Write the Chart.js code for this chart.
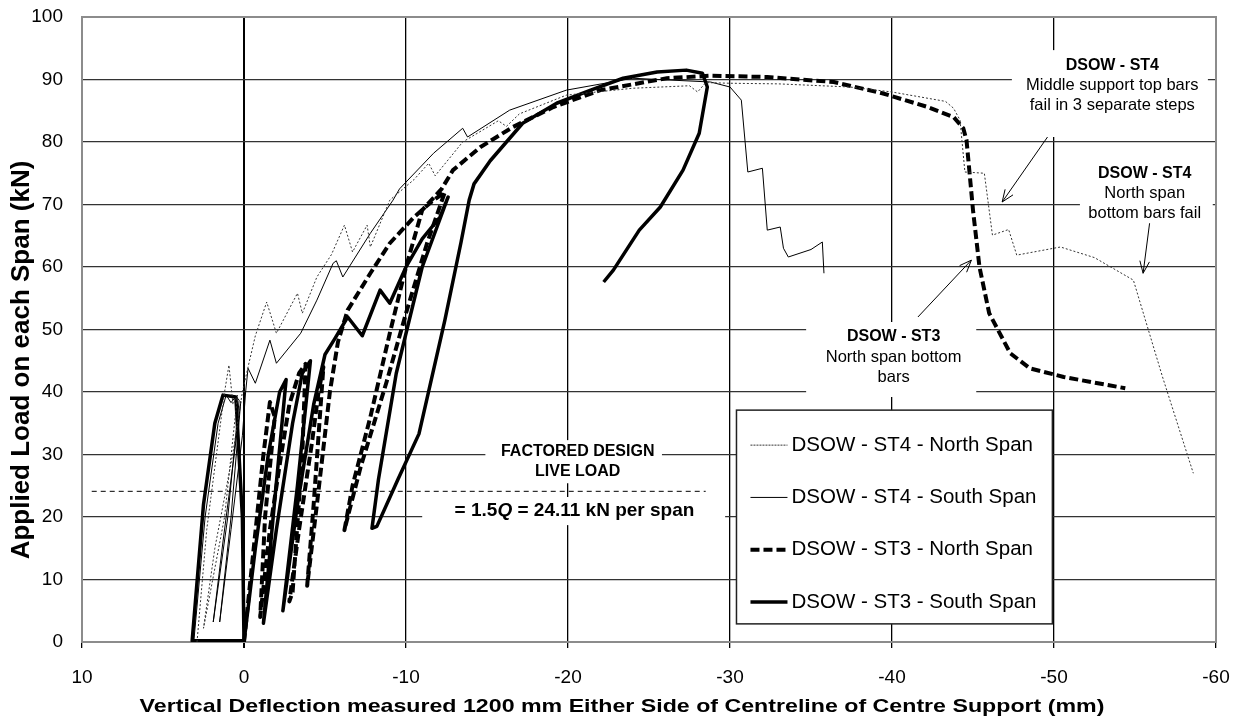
<!DOCTYPE html>
<html>
<head>
<meta charset="utf-8">
<script src="https://cdn.jsdelivr.net/npm/chart.js@4.4.1/dist/chart.umd.min.js"></script>
<style>
html,body{margin:0;padding:0;background:#fff;}
#wrap{width:1243px;height:726px;}
</style>
</head>
<body>
<div id="wrap"><canvas id="c" width="1243" height="726"></canvas></div>
<script>
// ---------- data (deflection mm, load kN) ----------
const xTickValues = [10, 0, -10, -20, -30, -40, -50, -60];
const yTickValues = [0, 10, 20, 30, 40, 50, 60, 70, 80, 90, 100];

const seriesNames = [
  'DSOW - ST4 - North Span',
  'DSOW - ST4 - South Span',
  'DSOW - ST3 - North Span',
  'DSOW - ST3 - South Span'
];

const st4North = [
  [2.9,0],[2.3,18],[1.6,32],[1.2,40],[0.93,44.3],[0.68,38],[0.4,39.5],[1.2,20],[2.5,2.2],[1.8,15],
  [0.7,30],[0.1,40],[-0.25,44],[-0.7,49],[-1.4,54.4],[-2.0,49.4],[-3.3,55.8],[-3.6,52.6],[-4.5,58.4],
  [-5.4,62],[-6.2,66.7],[-6.7,62.4],[-7.6,66.7],[-7.8,63.2],[-9,70.7],[-10.5,74],[-11.4,76.6],
  [-11.8,74.6],[-13.5,80],[-15.7,83.4],[-16.2,82.5],[-17,84.5],[-19.9,87.5],[-24,88.6],[-27.5,89],
  [-28.0,88],[-28.5,89.5],[-30,89.4],[-33,89.3],[-37.4,88.8],[-40,88],[-43.3,86.5],[-43.8,85.4],
  [-44.2,83.5],[-44.5,75.2],[-45.7,75],[-46.2,65.1],[-47.2,66],[-47.7,61.9],[-50.4,63.2],
  [-52.5,61.5],[-54.9,57.9],[-56.7,42.4],[-58.6,27]
];

const st4South = [
  [3.1,0],[2.4,20],[1.6,35],[1.1,39.5],[0.8,38.3],[0.5,39.3],[0.3,38.7],[1.0,20],[1.9,3.2],[1.3,16],
  [0.6,30],[0.2,38.5],[0.8,20],[1.5,3.2],[0.8,18],[0.1,33],[-0.1,40],[-0.25,43.8],[-0.7,41.4],
  [-1.6,48.3],[-2.0,44.6],[-3.5,49.4],[-4.5,54.7],[-5.5,60.6],[-5.7,61],[-6.1,58.4],[-7.8,65.4],
  [-9.2,70.7],[-9.6,72.5],[-11.7,78.2],[-13.5,82.2],[-13.8,80.8],[-16.4,85.1],[-19.9,88.3],
  [-24,90.2],[-28.8,89.6],[-30,88.8],[-30.7,86.7],[-31.1,75.2],[-32,75.8],[-32.3,65.9],
  [-33.1,66.4],[-33.3,63],[-33.6,61.6],[-35,62.8],[-35.7,64],[-35.8,59]
];

const st3North = [
  [0,0],[-0.6,15],[-1.2,30],[-1.6,38.4],[-1.9,36],[-1.3,20],[-1.0,4],[-1.6,18],[-2.3,30],[-2.8,38],
  [-3.4,43],[-3.8,44.5],[-3.6,30],[-3.0,8],[-2.8,6.5],[-3.4,18],[-4.2,32],[-4.6,40],[-4.9,44],
  [-4.3,22],[-3.9,9],[-4.5,22],[-5.3,40],[-5.8,48],[-6.4,53.1],[-7.8,59],[-9,63.8],[-10.5,68],
  [-11.6,70.5],[-12.4,72],[-11.3,63.8],[-10,52.6],[-8.8,41.6],[-7.2,28],[-6.5,21],[-6.2,17.9],
  [-6.7,25],[-7.8,36],[-9,49.4],[-10,60],[-11,69.1],[-12.2,72.5],[-12.9,75.5],[-14.6,79.2],
  [-16.6,82.4],[-19.1,85.6],[-22,88.3],[-26.1,90.2],[-28.8,90.6],[-32.3,90.4],[-36.4,89.6],
  [-39.4,87.8],[-42.2,85.6],[-43.8,84],[-44.4,82.2],[-44.6,80.3],[-45,69.1],[-45.4,60],[-46,52.6],
  [-47.3,46.2],[-48.5,43.8],[-50.6,42.4],[-54.4,40.6]
];

const st3South = [
  [0,0.2],[3.2,0.2],[2.5,22],[1.8,35],[1.3,39.5],[0.5,39.2],[0.1,20],[0,0],[-0.7,15],[-1.5,30],
  [-2.2,40],[-2.6,42],[-1.8,20],[-1.2,3],[-2,18],[-3,35],[-3.6,43],[-4.1,45],[-3.3,25],[-2.4,5],
  [-3.3,22],[-4.3,38],[-5,46],[-5.6,48.5],[-6.4,52],[-7.3,49],[-8.4,56.3],[-9,54.2],[-10,60],
  [-11,64.5],[-12.1,68],[-12.6,71.2],[-11.0,60],[-9.4,43],[-8.3,26],[-7.9,18.2],[-8.2,18.5],
  [-9.5,26],[-10.8,33.3],[-12.4,51.5],[-13.4,64],[-13.9,70.7],[-14.2,73.3],[-15.2,77],[-17.2,83],
  [-19.3,86.2],[-21.4,88.3],[-23.4,90.2],[-25.5,91.2],[-27.3,91.5],[-28.3,91],[-28.6,88.8],
  [-28.1,81.4],[-27.1,75.5],[-25.7,69.6],[-24.4,65.9],[-22.8,59.5],[-22.2,57.6]
];

const designLoadX = [9.4, -28.5];
const designLoadValue = 24.11;

// ---------- annotation layout (in data units) ----------
const FONT = '"Liberation Sans", Arial, Helvetica, sans-serif';
const notes = [
  { box: [-47.4, -59.5, 94.7, 80.8], cx: -53.6, lines: [
      { t: 'DSOW - ST4', y: 92.2, w: 'bold', s: 16 },
      { t: 'Middle support top bars', y: 89.0, w: 'normal', s: 16.5 },
      { t: 'fail in 3 separate steps', y: 85.8, w: 'normal', s: 16.5 } ] },
  { box: [-51.6, -59.8, 77.6, 67.0], cx: -55.6, lines: [
      { t: 'DSOW - ST4', y: 75.0, w: 'bold', s: 16 },
      { t: 'North span', y: 71.7, w: 'normal', s: 16.5 },
      { t: 'bottom bars fail', y: 68.6, w: 'normal', s: 16.5 } ] },
  { box: [-34.7, -45.2, 51.2, 39.2], cx: -40.1, lines: [
      { t: 'DSOW - ST3', y: 48.8, w: 'bold', s: 16 },
      { t: 'North span bottom', y: 45.6, w: 'normal', s: 16.5 },
      { t: 'bars', y: 42.4, w: 'normal', s: 16.5 } ] },
  { box: [-14.9, -25.8, 32.3, 25.4], cx: -20.6, lines: [
      { t: 'FACTORED DESIGN', y: 30.4, w: 'bold', s: 16 },
      { t: 'LIVE LOAD', y: 27.2, w: 'bold', s: 16 } ] },
  { box: [-11.0, -29.7, 23.2, 18.7], cx: -20.4, rich: { y: 21.0, s: 19, parts: [
      { t: '= 1.5', st: 'bold' }, { t: 'Q', st: 'italic bold' }, { t: ' = 24.11 kN per span', st: 'bold' } ] } }
];
const arrows = [
  { from: [-49.6, 80.8], to: [-46.8, 70.4] },
  { from: [-55.9, 67.0], to: [-55.5, 59.0] },
  { from: [-41.6, 52.0], to: [-44.9, 61.1] }
];
const legendBox = { x1: -30.4, x2: -49.9, y1: 37.1, y2: 2.9 };

const toXY = arr => arr.map(p => ({ x: p[0], y: p[1] }));

const datasets = [
  { label: seriesNames[0], data: toXY(st4North), borderColor: '#333', borderWidth: 1, borderDash: [2, 2], legendDash: [2, 1] },
  { label: seriesNames[1], data: toXY(st4South), borderColor: '#000', borderWidth: 1, borderDash: [] },
  { label: seriesNames[2], data: toXY(st3North), borderColor: '#000', borderWidth: 4, borderDash: [9, 4], legendDash: [9, 4] },
  { label: seriesNames[3], data: toXY(st3South), borderColor: '#000', borderWidth: 3.5, borderDash: [] },
  { label: 'design', data: designLoadX.map(v => ({ x: v, y: designLoadValue })), borderColor: '#000', borderWidth: 1, borderDash: [5, 4], noLegend: true }
].map(d => Object.assign({ showLine: true, pointRadius: 0, fill: false, tension: 0, borderCapStyle: 'butt', borderJoinStyle: 'round' }, d));

function arrowHead(ctx, x1, y1, x2, y2) {
  const ang = Math.atan2(y2 - y1, x2 - x1);
  const L = 13, a = 0.38;
  ctx.beginPath();
  ctx.moveTo(x2 - L * Math.cos(ang - a), y2 - L * Math.sin(ang - a));
  ctx.lineTo(x2, y2);
  ctx.lineTo(x2 - L * Math.cos(ang + a), y2 - L * Math.sin(ang + a));
  ctx.stroke();
}

const decor = {
  id: 'decor',
  beforeDatasetsDraw(chart) {
    const { ctx, chartArea: a, scales: { x, y } } = chart;
    ctx.save();
    ctx.strokeStyle = '#8c8c8c';
    ctx.lineWidth = 2;
    ctx.strokeRect(a.left, a.top, a.right - a.left, a.bottom - a.top);
    ctx.fillStyle = '#fff';
    for (const n of notes) {
      const px1 = x.getPixelForValue(n.box[0]), px2 = x.getPixelForValue(n.box[1]);
      const py1 = y.getPixelForValue(n.box[2]), py2 = y.getPixelForValue(n.box[3]);
      ctx.fillRect(Math.min(px1, px2), Math.min(py1, py2), Math.abs(px2 - px1), Math.abs(py2 - py1));
    }
    ctx.fillStyle = '#000';
    ctx.textBaseline = 'middle';
    for (const n of notes) {
      const cx = x.getPixelForValue(n.cx);
      if (n.lines) {
        ctx.textAlign = 'center';
        for (const l of n.lines) {
          ctx.font = `${l.w} ${l.s}px ${FONT}`;
          ctx.fillText(l.t, cx, y.getPixelForValue(l.y));
        }
      }
      if (n.rich) {
        ctx.textAlign = 'left';
        let total = 0;
        for (const p of n.rich.parts) { ctx.font = `${p.st} ${n.rich.s}px ${FONT}`; total += ctx.measureText(p.t).width; }
        let px = cx - total / 2;
        const py = y.getPixelForValue(n.rich.y);
        for (const p of n.rich.parts) {
          ctx.font = `${p.st} ${n.rich.s}px ${FONT}`;
          ctx.fillText(p.t, px, py);
          px += ctx.measureText(p.t).width;
        }
      }
    }
    ctx.restore();
  },
  afterDatasetsDraw(chart) {
    const { ctx, scales: { x, y } } = chart;
    ctx.save();
    ctx.strokeStyle = '#000';
    ctx.lineWidth = 1;
    for (const ar of arrows) {
      const x1 = x.getPixelForValue(ar.from[0]), y1 = y.getPixelForValue(ar.from[1]);
      const x2 = x.getPixelForValue(ar.to[0]), y2 = y.getPixelForValue(ar.to[1]);
      ctx.beginPath(); ctx.moveTo(x1, y1); ctx.lineTo(x2, y2); ctx.stroke();
      arrowHead(ctx, x1, y1, x2, y2);
    }
    // legend
    const lx = x.getPixelForValue(legendBox.x1), rx = x.getPixelForValue(legendBox.x2);
    const ty = y.getPixelForValue(legendBox.y1), by = y.getPixelForValue(legendBox.y2);
    ctx.fillStyle = '#fff';
    ctx.fillRect(lx, ty, rx - lx, by - ty);
    ctx.strokeStyle = '#222';
    ctx.lineWidth = 1.5;
    ctx.strokeRect(lx, ty, rx - lx, by - ty);
    const items = chart.data.datasets.filter(d => !d.noLegend);
    ctx.font = `20.5px ${FONT}`;
    ctx.textAlign = 'left';
    ctx.textBaseline = 'middle';
    items.forEach((d, i) => {
      const ry = ty + 35 + i * 52.3;
      ctx.save();
      ctx.strokeStyle = d.borderColor;
      ctx.lineWidth = d.borderWidth;
      ctx.setLineDash(d.legendDash || d.borderDash || []);
      ctx.beginPath(); ctx.moveTo(lx + 14, ry); ctx.lineTo(lx + 51, ry); ctx.stroke();
      ctx.restore();
      ctx.fillStyle = '#000';
      ctx.fillText(d.label, lx + 55, ry);
    });
    ctx.restore();
  },
  afterDraw(chart) {
    const { ctx } = chart;
    ctx.save();
    ctx.fillStyle = '#000';
    ctx.textAlign = 'center';
    ctx.textBaseline = 'middle';
    ctx.font = `bold 19px ${FONT}`;
    ctx.translate(622, 707);
    ctx.scale(1.22, 1);
    ctx.fillText('Vertical Deflection measured 1200 mm Either Side of Centreline of Centre Support (mm)', 0, 0);
    ctx.restore();
    ctx.save();
    ctx.fillStyle = '#000';
    ctx.textAlign = 'center';
    ctx.textBaseline = 'middle';
    ctx.font = `bold 26px ${FONT}`;
    ctx.translate(22, 360);
    ctx.rotate(-Math.PI / 2);
    ctx.fillText('Applied Load on each Span (kN)', 0, 0);
    ctx.restore();
  }
};

Chart.defaults.font.family = FONT;
Chart.defaults.color = '#000';

new Chart(document.getElementById('c'), {
  type: 'scatter',
  data: { datasets },
  options: {
    responsive: false,
    animation: false,
    events: [],
    layout: { padding: { top: 17, right: 27, left: 0, bottom: 0 } },
    plugins: { legend: { display: false }, tooltip: { enabled: false } },
    scales: {
      x: {
        type: 'linear', min: -60, max: 10, reverse: true,
        afterFit: s => { s.height = 84; s.paddingLeft = 0; s.paddingRight = 0; },
        afterBuildTicks: s => { s.ticks = xTickValues.map(v => ({ value: v })); },
        ticks: { font: { size: 19 }, color: '#000', padding: 18, callback: v => String(v) },
        grid: { color: '#000', lineWidth: c => (c.tick && c.tick.value === 0 ? 2 : 1.3), tickLength: 6, drawTicks: true },
        border: { display: false }
      },
      y: {
        type: 'linear', min: 0, max: 100,
        afterFit: s => { s.width = 82; s.paddingTop = 0; s.paddingBottom = 0; },
        afterBuildTicks: s => { s.ticks = yTickValues.map(v => ({ value: v })); },
        ticks: { font: { size: 19 }, color: '#000', padding: 19, callback: v => String(v) },
        grid: { color: '#333', lineWidth: 1.3, drawTicks: false },
        border: { display: false }
      }
    }
  },
  plugins: [decor]
});
</script>
</body>
</html>
